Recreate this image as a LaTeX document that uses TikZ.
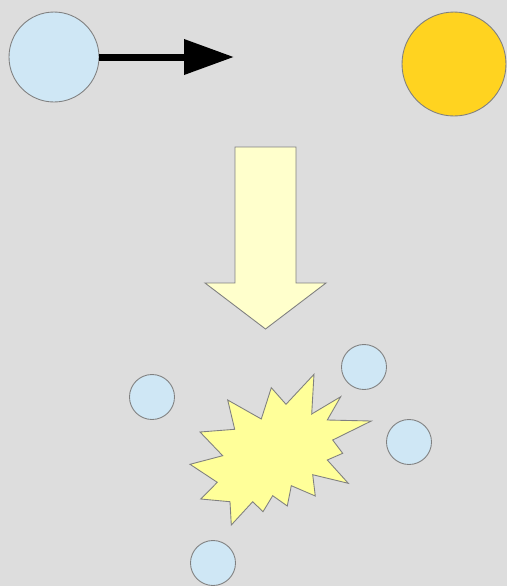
\documentclass[tikz,border=0pt]{standalone}
\usetikzlibrary{arrows.meta}
\definecolor{bgray}{HTML}{DDDDDD}
\definecolor{ballblue}{HTML}{CFE7F5}
\definecolor{sungold}{HTML}{FFD320}
\definecolor{arrowcream}{HTML}{FFFFCC}
\definecolor{burstyellow}{HTML}{FFFF99}
\definecolor{edgegray}{HTML}{808080}

\begin{document}
\begin{tikzpicture}[
    x=0.02cm, y=-0.02cm,
    ball/.style={circle, draw=edgegray, line width=0.5pt, fill=ballblue,
                 inner sep=0pt, minimum size=1.8cm},
    small/.style={ball, minimum size=0.9cm},
    sun/.style={ball, fill=sungold, minimum size=2.08cm},
    shoot/.style={-{Triangle[length=1cm, width=0.68cm]}, line width=0.14cm, draw=black},
    outline/.style={draw=edgegray, line width=0.5pt, line join=miter}
  ]
    \fill[bgray] (0,0) rectangle (507,586);
    \useasboundingbox (0,0) rectangle (507,586);

    % before
    \node[ball] (photon) at (54,57) {};
    \coordinate (aim) at (234,57);
    \draw[shoot] (photon.east) -- (aim);
    \node[sun] (target) at (454,64) {};

    % transition
    \draw[outline, fill=arrowcream]
      (235,147) -- (296,147) -- (296,283) -- (326,283) -- (265.5,329)
      -- (205,283) -- (235,283) -- cycle;

    % after
    \draw[outline, fill=burstyellow]
      (314,374.3) -- (311.7,414) -- (340.7,396.7) -- (327.3,420) -- (371.3,421)
      -- (332.7,440) -- (342.7,453.3) -- (327.3,460) -- (348.3,483.3) -- (312.7,474.7)
      -- (315.3,496) -- (291.3,485.7) -- (287.3,506) -- (272.7,495.7) -- (263,511.7)
      -- (252.7,501.7) -- (231.3,525) -- (230,501.7) -- (200.7,499) -- (217.3,482.3)
      -- (190,464.3) -- (222.7,455.7) -- (200,432) -- (234.7,429.3) -- (227.7,400)
      -- (261.3,419) -- (271.3,387.7) -- (286,404.3) -- cycle;

    \foreach \n/\p in {f1/{(152,397)}, f2/{(364,367)}, f3/{(409,442)}, f4/{(213,563)}}
      \node[small] (\n) at \p {};
  \end{tikzpicture}
\end{document}
